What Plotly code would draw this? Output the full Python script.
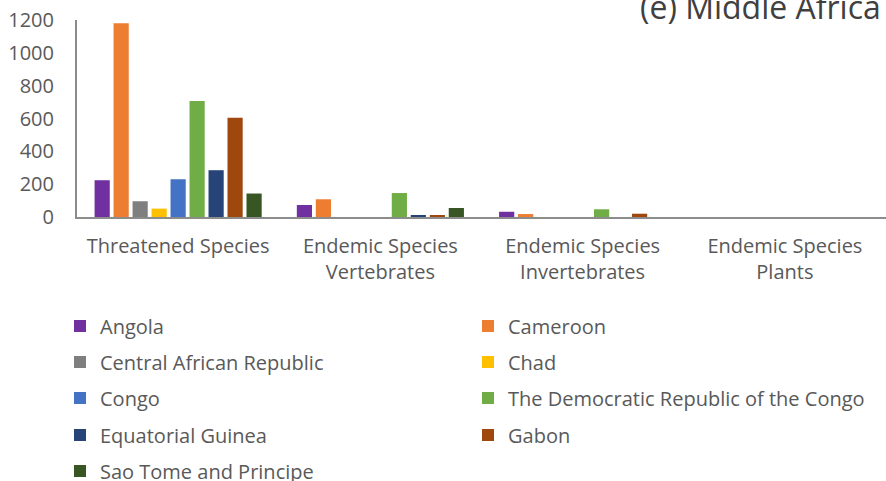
import plotly.graph_objects as go

categories = ["Threatened Species", "Endemic Species<br>Vertebrates",
              "Endemic Species<br>Invertebrates", "Endemic Species<br>Plants"]

countries = ["Angola", "Cameroon", "Central African Republic", "Chad", "Congo",
             "The Democratic Republic of the Congo", "Equatorial Guinea", "Gabon",
             "Sao Tome and Principe"]

angola = [224, 73, 32, 0]
cameroon = [1180, 108, 18, 0]
car = [96, 0, 0, 0]
chad = [51, 0, 0, 0]
congo = [230, 0, 0, 0]
drc = [706, 146, 47, 0]
eq_guinea = [285, 12, 0, 0]
gabon = [604, 10, 20, 0]
sao_tome = [143, 55, 0, 0]

series = [angola, cameroon, car, chad, congo, drc, eq_guinea, gabon, sao_tome]
colors = ["#7030A0", "#ED7D31", "#7F7F7F", "#FFC000", "#4472C4",
          "#70AD47", "#264478", "#9E480E", "#375623"]

yticks = [0, 200, 400, 600, 800, 1000, 1200]

FONT = "Open Sans"
TXT = "#595959"
W, H = 886, 481

fig = go.Figure()
legends = {}
row_y = [327, 363, 399, 436, 472]
col_x = [60, 468]
for i, (name, vals, col) in enumerate(zip(countries, series, colors)):
    key = "legend" if i == 0 else f"legend{i + 1}"
    fig.add_trace(go.Bar(
        x=categories, y=vals, name=name,
        marker=dict(color=col, line=dict(width=0)),
        legend=key,
    ))
    legends[key] = dict(
        orientation="h", xref="container", yref="container",
        x=col_x[i % 2] / W, y=1 - (row_y[i // 2] - 1) / H,
        xanchor="left", yanchor="middle",
        font=dict(family=FONT, size=20, color=TXT),
        bgcolor="rgba(0,0,0,0)", itemclick=False, itemdoubleclick=False,
    )

fig.update_layout(
    width=W, height=H,
    margin=dict(l=77, r=0, t=20, b=264, autoexpand=False),
    paper_bgcolor="white", plot_bgcolor="white",
    barmode="group", bargap=0.155, bargroupgap=0.2,
    font=dict(family=FONT, color=TXT),
    showlegend=True,
    xaxis=dict(showline=True, linecolor="#8C8C8C", linewidth=2, ticks="",
               showgrid=False, tickfont=dict(family=FONT, size=20, color=TXT),
               ticklabelstandoff=10, automargin=False),
    yaxis=dict(range=[0, 1200], tickvals=yticks, showline=True, linecolor="#8C8C8C",
               linewidth=2, showgrid=False, zeroline=False, ticks="",
               tickfont=dict(family=FONT, size=20, color=TXT),
               ticklabelstandoff=17, automargin=False),
    annotations=[dict(text="(e) Middle Africa", xref="paper", yref="paper",
                      x=(883 - 77) / (W - 77), y=(217 - 6) / 197,
                      xanchor="right", yanchor="middle", showarrow=False,
                      font=dict(family=FONT, size=32, color="#404040"))],
    **legends,
)

fig.write_html("out.html", config={"displayModeBar": False},
               post_script="document.body.style.margin='0';document.body.style.overflow='hidden';")
